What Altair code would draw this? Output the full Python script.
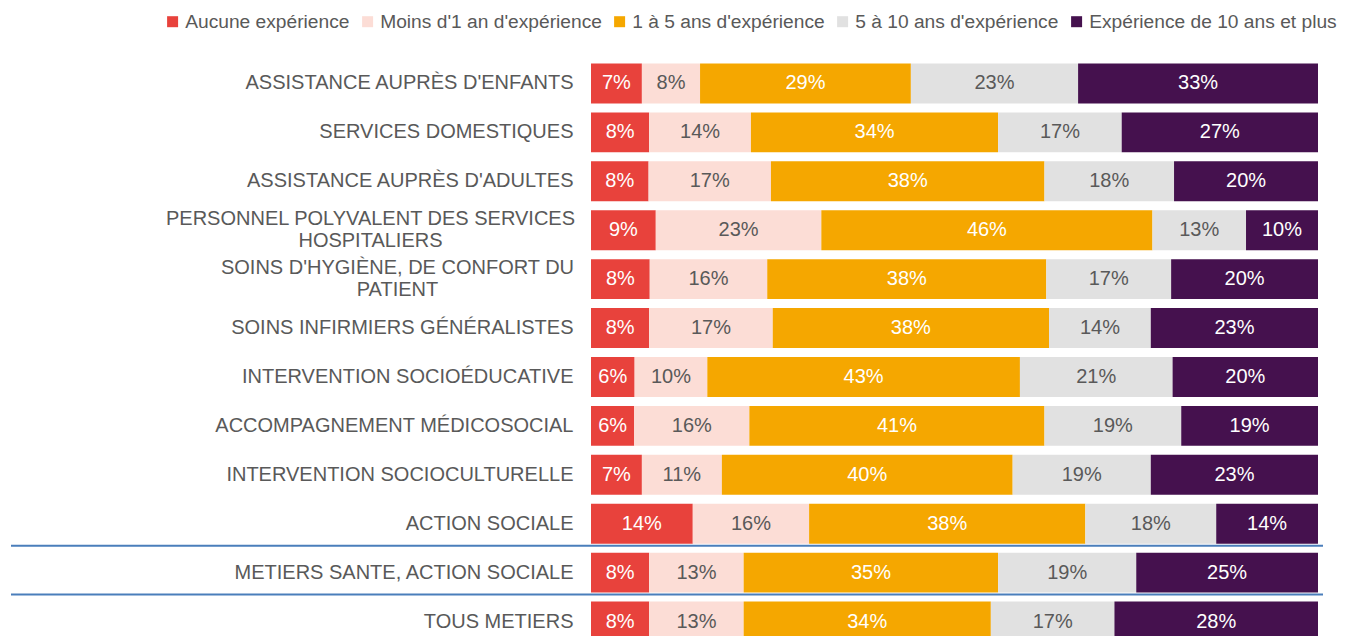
import altair as alt
import pandas as pd

categories = [
    "ASSISTANCE AUPRÈS D'ENFANTS",
    "SERVICES DOMESTIQUES",
    "ASSISTANCE AUPRÈS D'ADULTES",
    "PERSONNEL POLYVALENT DES SERVICES|HOSPITALIERS",
    "SOINS D'HYGIÈNE, DE CONFORT DU|PATIENT",
    "SOINS INFIRMIERS GÉNÉRALISTES",
    "INTERVENTION SOCIOÉDUCATIVE",
    "ACCOMPAGNEMENT MÉDICOSOCIAL",
    "INTERVENTION SOCIOCULTURELLE",
    "ACTION SOCIALE",
    "METIERS SANTE, ACTION SOCIALE",
    "TOUS METIERS",
]
series = [
    "Aucune expérience",
    "Moins d'1 an d'expérience",
    "1 à 5 ans d'expérience",
    "5 à 10 ans d'expérience",
    "Expérience de 10 ans et plus",
]
aucune = [7, 8, 8, 9, 8, 8, 6, 6, 7, 14, 8, 8]
moins_1 = [8, 14, 17, 23, 16, 17, 10, 16, 11, 16, 13, 13]
un_a_cinq = [29, 34, 38, 46, 38, 38, 43, 41, 40, 38, 35, 34]
cinq_a_dix = [23, 17, 18, 13, 17, 14, 21, 19, 19, 18, 19, 17]
dix_plus = [33, 27, 20, 10, 20, 23, 20, 19, 23, 14, 25, 28]
colors = ["#E8423C", "#FCDDD6", "#F5A700", "#E1E1E1", "#45114E"]
dark_text_series = ["Moins d'1 an d'expérience", "5 à 10 ans d'expérience"]
separators_after = ["ACTION SOCIALE", "METIERS SANTE, ACTION SOCIALE"]

values_by_series = [aucune, moins_1, un_a_cinq, cinq_a_dix, dix_plus]
rows = []
for si, (s, vals) in enumerate(zip(series, values_by_series)):
    for c, v in zip(categories, vals):
        rows.append({"category": c, "series": s, "order": si, "value": v})
df = pd.DataFrame(rows)
sep_df = pd.DataFrame({"category": separators_after})

FONT = "Liberation Sans"
GREY = "#595959"
MULTI = "indexof(datum.label, '|') >= 0"

y_scale = alt.Scale(domain=categories, paddingInner=0.183, paddingOuter=0.0915)
y_axis = alt.Axis(
    title=None, labelFont=FONT, labelFontSize=20, labelColor=GREY,
    ticks=False, domain=False, labelLimit=700,
    labelExpr="split(datum.label, '|')", labelLineHeight=22,
    labelBaseline="middle",
    labelAlign={"condition": {"test": MULTI, "value": "center"}, "value": "right"},
    labelOffset={"condition": {"test": MULTI, "value": -11}, "value": 0},
    labelPadding={
        "condition": [
            {"test": "indexof(datum.label, 'PERSONNEL') >= 0", "value": 221},
            {"test": "indexof(datum.label, 'HYGI') >= 0", "value": 194},
        ],
        "value": 18,
    },
)
x_scale = alt.Scale(domain=[0, 1], nice=False, zero=True)

base = alt.Chart(df).transform_stack(
    stack="value", groupby=["category"], as_=["x0", "x1"],
    sort=[alt.SortField("order", order="ascending")], offset="normalize",
).transform_calculate(
    mid="(datum.x0 + datum.x1) / 2", label="datum.value + '%'"
)

bars = base.mark_bar().encode(
    y=alt.Y("category:N", scale=y_scale, axis=y_axis, sort=categories),
    x=alt.X("x0:Q", scale=x_scale, axis=None),
    x2="x1:Q",
    color=alt.Color(
        "series:N", sort=series,
        scale=alt.Scale(domain=series, range=colors),
        legend=alt.Legend(
            title=None, orient="none", legendX=-428, legendY=-47,
            direction="horizontal", columns=5, symbolType="square",
            symbolSize=121, symbolStrokeWidth=0, labelFont=FONT,
            labelFontSize=19.2, labelColor=GREY, columnPadding=8,
            labelOffset=3, labelLimit=500,
        ),
    ),
)

text = base.mark_text(font=FONT, fontSize=20, baseline="middle", align="center").encode(
    y=alt.Y("category:N", scale=y_scale, axis=y_axis, sort=categories),
    x=alt.X("mid:Q", scale=x_scale, axis=None),
    text="label:N",
    color=alt.condition(
        alt.FieldOneOfPredicate(field="series", oneOf=dark_text_series),
        alt.value(GREY), alt.value("white"),
    ),
)

rules = alt.Chart(sep_df).mark_rule(color="#4A7EBB", strokeWidth=2, yOffset=2).encode(
    y=alt.Y("category:N", scale=y_scale, axis=y_axis, sort=categories, bandPosition=1),
    x=alt.value(-580),
    x2=alt.value(732),
)

chart = alt.layer(bars, text, rules).properties(
    width=727, height=587,
    padding={"left": 2, "top": 4, "right": 0, "bottom": 0},
).configure_view(stroke=None)

chart.save("out.html", embed_options={"renderer": "svg", "actions": False})
